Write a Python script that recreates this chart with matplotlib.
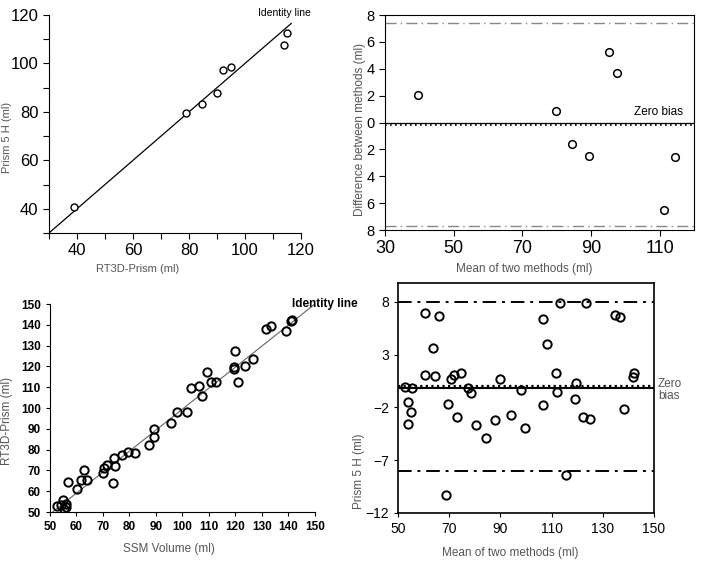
"""
Method comparison plots: identity scatter and Bland-Altman panels.
"""
import matplotlib
matplotlib.use("Agg")
import matplotlib.pyplot as plt
from matplotlib.ticker import MultipleLocator, FixedLocator, FixedFormatter

plt.rcParams["font.family"] = ["Liberation Sans", "DejaVu Sans"]

# top-left: RT3D-Prism vs Prism 5 H
rt3d_x = [39.1, 78.9, 84.8, 90.0, 92.0, 95.0, 113.9, 115.0]
prism_y = [40.7, 79.6, 83.2, 87.6, 97.3, 98.7, 107.5, 112.5]

# top-right: Bland-Altman, RT3D-Prism vs Prism 5 H
ba1_mean = [39.7, 79.8, 84.6, 89.3, 95.3, 97.5, 114.5, 111.4]
ba1_diff = [2.05, 0.87, -1.63, -2.5, 5.22, 3.71, -2.57, -6.5]
ba1_bias = -0.2
ba1_limits = [7.4, -7.7]
ba1_ticklabels = ["8", "6", "4", "2", "0", "2", "4", "6", "8"]

# bottom-left: SSM volume vs RT3D-Prism
ssm_x = [52.8, 54.2, 55.0, 55.4, 56.0, 56.2, 56.8, 60.1, 61.6, 62.8, 64.0,
         70.0, 70.5, 71.4, 73.8, 74.2, 74.5, 77.2, 79.3, 82.2, 87.2, 89.1,
         89.4, 95.5, 97.8, 101.7, 103.2, 106.4, 107.5, 109.4, 110.9, 112.5,
         119.7, 119.6, 119.6, 120.8, 123.5, 126.5, 131.4, 133.4, 139.1,
         141.0, 141.3]
rt3d_y = [52.7, 53.2, 55.6, 51.6, 53.8, 52.6, 64.6, 61.2, 65.4, 70.2, 65.4,
          69.0, 71.4, 72.7, 63.9, 75.8, 72.1, 77.4, 78.8, 78.6, 82.2, 89.8,
          86.2, 92.7, 98.0, 98.0, 109.5, 110.6, 105.7, 117.4, 112.4, 112.4,
          127.4, 119.9, 118.6, 112.4, 120.4, 123.6, 138.2, 139.6, 137.2,
          142.0, 142.3]

# bottom-right: Bland-Altman, SSM vs RT3D-Prism
ba2_mean = [52.6, 53.9, 54.0, 54.9, 55.3, 60.6, 60.6, 63.6, 64.5, 66.2,
            68.6, 69.4, 70.6, 71.7, 73.0, 74.8, 77.3, 78.7, 80.5, 84.5,
            88.1, 89.9, 94.3, 97.9, 99.6, 106.6, 106.6, 108.4, 111.6, 112.3,
            113.4, 115.7, 119.1, 119.5, 122.1, 123.5, 124.9, 134.9, 136.9,
            138.2, 141.7, 142.2]
ba2_diff = [-0.05, -1.5, -3.6, -2.4, -0.18, 7.0, 1.05, 3.63, 0.96, 6.68,
            -10.27, -1.65, 0.7, 1.05, -2.94, 1.27, -0.18, -0.6, -3.64, -4.92,
            -3.16, 0.7, -2.75, -0.33, -3.95, 6.36, -1.75, 4.04, 1.27, -0.49,
            7.9, -8.4, -1.15, 0.3, -2.94, 7.9, -3.07, 6.8, 6.55, -2.1,
            0.9, 1.24]
ba2_bias = 0.05
ba2_zero = -0.15
ba2_limits = [8.0, -8.0]

label_grey = "#555555"

fig = plt.figure(figsize=(7.04, 5.61), dpi=100)

# ---- top-left ----
ax1 = fig.add_axes([0.0696, 0.5847, 0.358, 0.3886])
ax1.plot([30, 116.5], [30, 116.5], color="black", lw=0.9)
ax1.plot(rt3d_x, prism_y, "o", mfc="white", mec="black", ms=5, mew=1.0)
ax1.set_xlim(30, 120)
ax1.set_ylim(30, 120)
ax1.spines["top"].set_visible(False)
ax1.spines["right"].set_visible(False)
ax1.xaxis.set_major_locator(FixedLocator([40, 60, 80, 100, 120]))
ax1.yaxis.set_major_locator(FixedLocator([40, 60, 80, 100, 120]))
ax1.xaxis.set_minor_locator(MultipleLocator(10))
ax1.yaxis.set_minor_locator(MultipleLocator(10))
ax1.tick_params(which="both", direction="out", length=4, width=0.8,
                labelsize=12)
ax1.text(104.6, 121, "Identity line", fontsize=7.5, ha="left", va="center",
         clip_on=False)
ax1.set_xlabel("RT3D-Prism (ml)", fontsize=8, color=label_grey)
ax1.xaxis.set_label_coords(0.35, -0.14)
ax1.set_ylabel("Prism 5 H (ml)", fontsize=8, color=label_grey)
ax1.yaxis.set_label_coords(-0.147, 0.44)

# ---- top-right ----
ax2 = fig.add_axes([0.5469, 0.590, 0.4389, 0.3832])
ax2.axhline(0, color="black", lw=0.9)
ax2.axhline(ba1_bias, color="black", lw=1.2, ls=(0, (1, 2)))
for lim in ba1_limits:
    ax2.axhline(lim, color="#888888", lw=1.0, ls=(0, (8, 3, 1, 3)))
ax2.plot(ba1_mean, ba1_diff, "o", mfc="white", mec="black", ms=5.5, mew=1.1)
ax2.set_xlim(30, 120)
ax2.set_ylim(-8, 8)
ax2.set_xticks([30, 50, 70, 90, 110])
ax2.yaxis.set_major_locator(FixedLocator(list(range(8, -9, -2))))
ax2.yaxis.set_major_formatter(FixedFormatter(ba1_ticklabels))
ax2.tick_params(axis="x", direction="out", length=4, labelsize=13)
ax2.tick_params(axis="y", direction="out", length=4, labelsize=10.5)
ax2.text(116.8, 0.75, "Zero bias", fontsize=8.5, ha="right", va="center")
ax2.set_xlabel("Mean of two methods (ml)", fontsize=8.5, color=label_grey)
ax2.xaxis.set_label_coords(0.45, -0.153)
ax2.set_ylabel("Difference between methods (ml)", fontsize=8.5,
               color=label_grey)
ax2.yaxis.set_label_coords(-0.062, 0.47)

# ---- bottom-left ----
ax3 = fig.add_axes([0.071, 0.0873, 0.3764, 0.3708])
ax3.plot([51, 150], [50, 150], color="#666666", lw=0.8)
ax3.plot(ssm_x, rt3d_y, "o", mfc="none", mec="black", ms=6, mew=1.4)
ax3.set_xlim(50, 150)
ax3.set_ylim(50, 150)
ax3.spines["top"].set_visible(False)
ax3.spines["right"].set_visible(False)
ax3.xaxis.set_major_locator(MultipleLocator(10))
ax3.yaxis.set_major_locator(MultipleLocator(10))
ax3.tick_params(direction="out", length=3, labelsize=8.5)
for lab in ax3.get_xticklabels() + ax3.get_yticklabels():
    lab.set_fontweight("bold")
ax3.text(141.3, 150, "Identity line", fontsize=8.5, fontweight="bold",
         ha="left", va="center", clip_on=False)
ax3.set_xlabel("SSM Volume (ml)", fontsize=8.5, color=label_grey)
ax3.xaxis.set_label_coords(0.45, -0.149)
ax3.set_ylabel("RT3D-Prism (ml)", fontsize=8.5, color=label_grey)
ax3.yaxis.set_label_coords(-0.14, 0.44)

# ---- bottom-right ----
ax4 = fig.add_axes([0.5653, 0.0856, 0.3636, 0.41])
ax4.axhline(ba2_zero, color="black", lw=1.5)
ax4.axhline(ba2_bias, color="black", lw=1.6, ls=(0, (1, 1.5)))
for lim in ba2_limits:
    ax4.axhline(lim, color="black", lw=1.4, ls=(0, (7, 3, 1.5, 3)))
ax4.plot(ba2_mean, ba2_diff, "o", mfc="none", mec="black", ms=6, mew=1.4)
ax4.set_xlim(50, 150)
ax4.set_ylim(-12, 9.8)
ax4.set_xticks([50, 70, 90, 110, 130, 150])
ax4.set_yticks([-12, -7, -2, 3, 8])
ax4.tick_params(direction="out", length=3, labelsize=10)
for sp in ax4.spines.values():
    sp.set_linewidth(1.2)
ax4.text(1.015, 0.535, "Zero\nbias", transform=ax4.transAxes, fontsize=8.5,
         color=label_grey, ha="left", va="center", linespacing=1.0)
ax4.set_xlabel("Mean of two methods (ml)", fontsize=8.5, color=label_grey)
ax4.xaxis.set_label_coords(0.44, -0.148)
ax4.set_ylabel("Prism 5 H (ml)", fontsize=8.5, color=label_grey)
ax4.yaxis.set_label_coords(-0.129, 0.18)

fig.savefig("out.png", dpi=100)
